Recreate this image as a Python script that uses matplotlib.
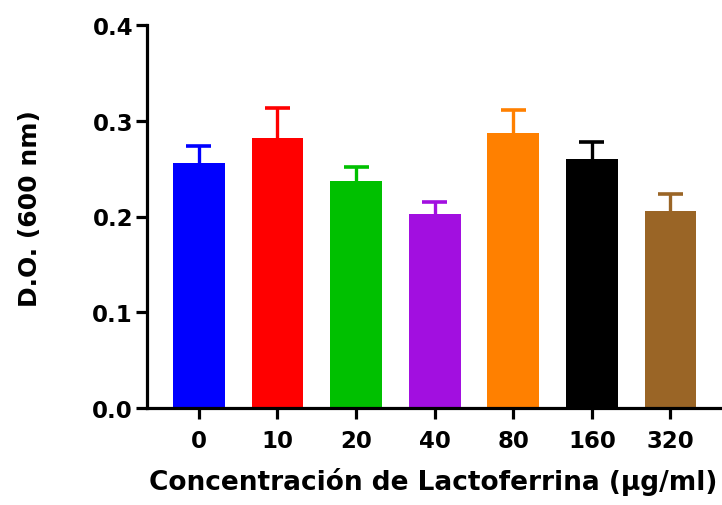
import matplotlib
matplotlib.use("Agg")
import matplotlib.pyplot as plt
import numpy as np

categories = ["0", "10", "20", "40", "80", "160", "320"]
means = [0.256, 0.282, 0.237, 0.203, 0.287, 0.260, 0.206]
errors = [0.018, 0.031, 0.015, 0.012, 0.024, 0.018, 0.017]
colors = ["#0000FF", "#FF0000", "#00C000", "#A20FE0", "#FF8000", "#000000", "#9A6526"]
yticks = [0.0, 0.1, 0.2, 0.3, 0.4]

plt.rcParams['font.family'] = ['DejaVu Sans']
plt.rcParams['font.weight'] = 'bold'

fig = plt.figure(figsize=(7.22, 5.06), dpi=100)
ax = fig.add_axes([147/722, 97/506, (720-147)/722, (409-26)/506])

x = np.arange(len(categories))
m = np.array(means)
e = np.array(errors)
ax.bar(x, m, width=0.66, color=colors, linewidth=0, zorder=2)
ax.vlines(x, m, m + e, colors=colors, linewidth=2.4, zorder=1)
ax.hlines(m + e, x - 0.16, x + 0.16, colors=colors, linewidth=2.6, zorder=1)

ax.set_xlim(-0.66, 6.63)
ax.set_ylim(0, 0.4)
ax.set_yticks(yticks)
ax.set_yticklabels([f"{t:.1f}" for t in yticks])
ax.set_xticks(x)
ax.set_xticklabels(categories)

for s in ['top', 'right']:
    ax.spines[s].set_visible(False)
for s in ['left', 'bottom']:
    ax.spines[s].set_linewidth(2.3)
ax.tick_params(axis='both', width=2.3, length=8, labelsize=16.5, direction='out')
ax.tick_params(axis='x', pad=7)
ax.tick_params(axis='y', pad=2)
for lab in ax.get_xticklabels() + ax.get_yticklabels():
    lab.set_fontweight('bold')

ax.set_ylabel("D.O. (600 nm)", fontsize=18, fontweight='bold')
ax.set_xlabel("Concentración de Lactoferrina (μg/ml)", fontsize=19, fontweight='bold')
ax.yaxis.set_label_coords((30 - 147) / 573, (409 - 209) / 383)
ax.xaxis.set_label_coords(0.5, (409 - 482) / 383)
ax.xaxis.label.set_va('center')
ax.yaxis.label.set_va('center')

fig.savefig("out.png", dpi=100)
